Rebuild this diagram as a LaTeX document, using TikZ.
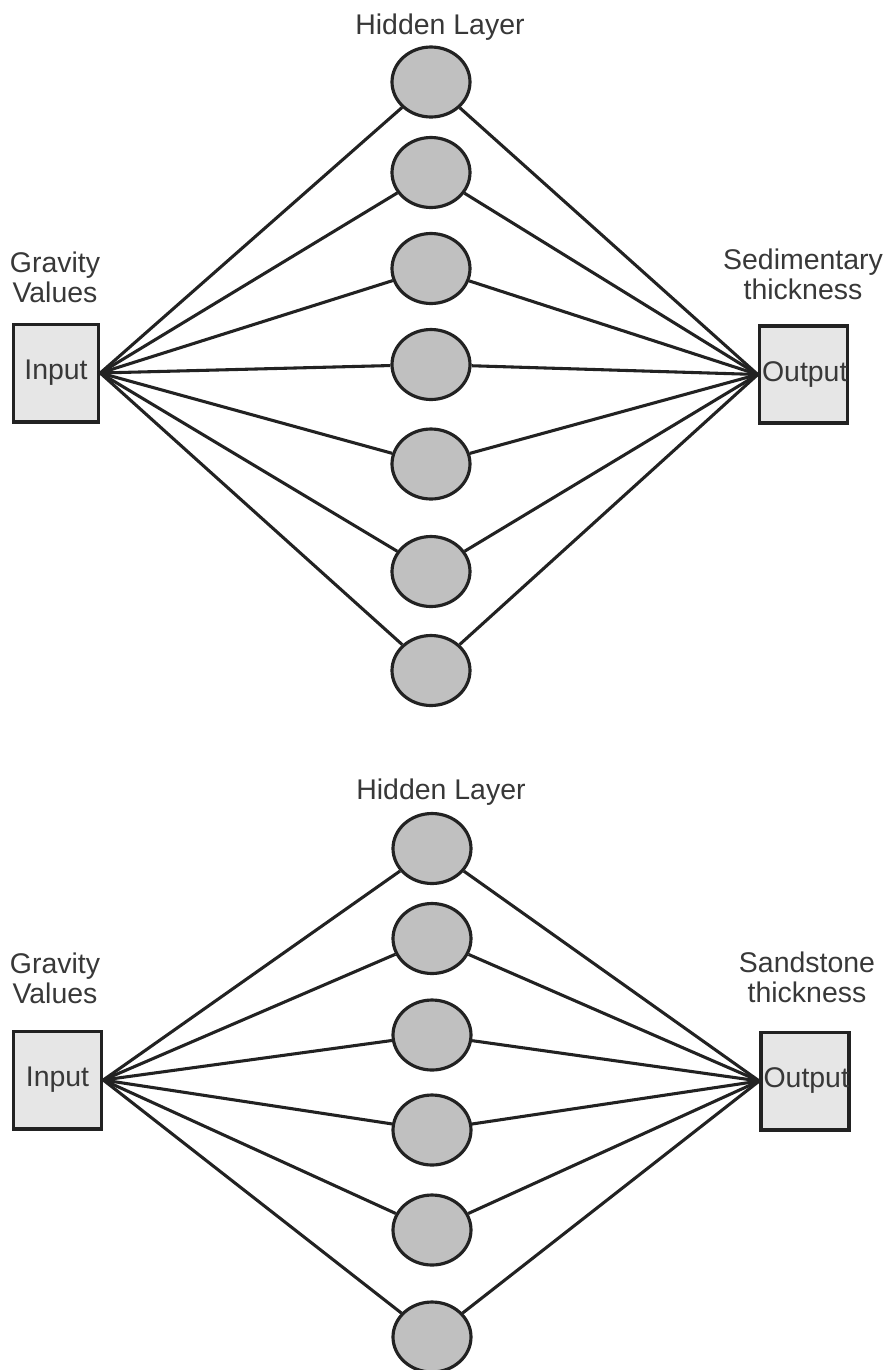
\documentclass[tikz,border=0pt]{standalone}
\usepackage{fontspec}
\setmainfont{Liberation Sans}
\usetikzlibrary{shapes.geometric}
\definecolor{boxfill}{HTML}{E6E6E6}
\definecolor{nodefill}{HTML}{C0C0C0}
\definecolor{ink}{HTML}{222222}
\begin{document}
\begin{tikzpicture}[x=0.02cm,y=-0.02cm,
  lbl/.style={font=\fontsize{16.2}{17}\selectfont, text=ink!90, align=center, inner sep=0pt},
  iobox/.style={draw=ink, line width=2pt, fill=boxfill, minimum width=1.7cm, minimum height=1.95cm, inner sep=0pt, font=\fontsize{16.2}{17}\selectfont, text=ink!90},
  hid/.style={ellipse, draw=ink, line width=1.8pt, fill=nodefill, minimum width=1.56cm, minimum height=1.4cm, inner sep=0pt},
  conn/.style={draw=ink, line width=1.75pt}]
\useasboundingbox (0,0) rectangle (884,1370);
\clip (0,0) rectangle (884,1370);
% ---------- top network ----------
\node[lbl] (t1) at (440,27) {Hidden Layer};
\node[lbl] (tg) at (55,277) {Gravity\\Values};
\node[lbl] (ts) at (803,274) {Sedimentary\\thickness};
\node[iobox] (tin) at (56,373) {Input};
\node[iobox, minimum width=1.74cm] (tout) at (803.5,374.5) {\hspace*{0.05cm}Output};
\foreach \i/\y in {1/82,2/172.5,3/268.5,4/364.5,5/464,6/571.5,7/670.5}{
  \node[hid] (th\i) at (431,\y) {};
}
\foreach \i in {1,...,7}{
  \draw[conn] (tin.east) -- (th\i);
  \draw[conn] (th\i) -- (tout.west);
}
% ---------- bottom network ----------
\node[lbl] (b1) at (441,792) {Hidden Layer};
\node[lbl] (bg) at (55,978) {Gravity\\Values};
\node[lbl] (bs) at (807,977) {Sandstone\\thickness};
\node[iobox, minimum width=1.76cm] (bin) at (57.5,1080) {Input};
\node[iobox, minimum width=1.76cm] (bout) at (805,1081) {\hspace*{0.05cm}Output};
\foreach \i/\y in {1/848.5,2/938.5,3/1035,4/1130,5/1230,6/1337}{
  \node[hid] (bh\i) at (432,\y) {};
}
\foreach \i in {1,...,6}{
  \draw[conn] (bin.east) -- (bh\i);
  \draw[conn] (bh\i) -- (bout.west);
}
\end{tikzpicture}
\end{document}
